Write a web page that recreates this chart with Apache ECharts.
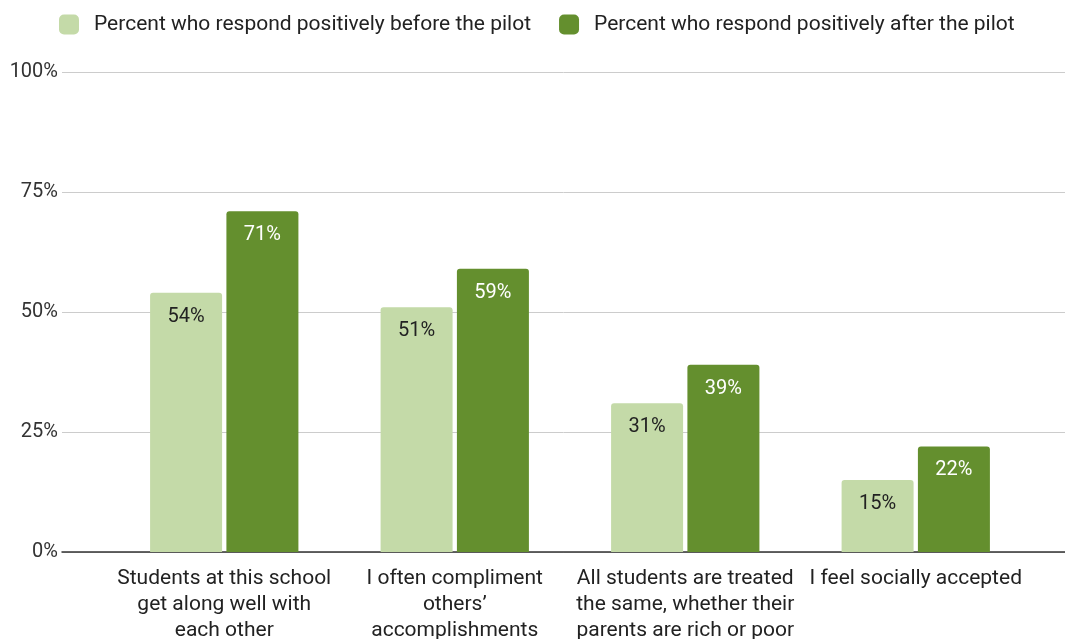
<!DOCTYPE html>
<html>
<head>
<meta charset="utf-8">
<script src="https://cdn.jsdelivr.net/npm/echarts@6/dist/echarts.min.js"></script>
<style>
  html, body { margin: 0; padding: 0; background: #fff; }
  #chart { width: 1065px; height: 639px; }
</style>
</head>
<body>
<div id="chart"></div>
<script>
// survey statements (line breaks as in the original)
const categories = [
  'Students at this school\nget along well with\neach other',
  'I often compliment\nothers\u2019\naccomplishments',
  'All students are treated\nthe same, whether their\nparents are rich or poor',
  'I feel socially accepted'
];
const seriesNames = [
  'Percent who respond positively before the pilot',
  'Percent who respond positively after the pilot'
];
const beforePilot = [54, 51, 31, 15];
const afterPilot = [71, 59, 39, 22];

const font = 'Roboto, "Noto Sans", sans-serif';
const lightGreen = '#c4daa8';
const darkGreen = '#648f2e';

const chart = echarts.init(document.getElementById('chart'));
chart.setOption({
  animation: false,
  textStyle: { fontFamily: font },
  legend: {
    left: 54,
    top: 9,
    itemWidth: 20,
    itemHeight: 20,
    itemGap: 28,
    icon: 'roundRect',
    textStyle: { fontSize: 21, color: '#222', padding: [0, 0, 0, 10], fontFamily: font },
    data: seriesNames
  },
  grid: [
    // full width grid: y labels, grid lines, baseline
    { left: 62, right: 0, top: 72, bottom: 87, outerBoundsMode: 'none' },
    // grid holding the bars
    { left: 109, right: 34, top: 72, bottom: 87, outerBoundsMode: 'none' }
  ],
  xAxis: [
    {
      gridIndex: 0,
      type: 'category',
      data: categories,
      axisLine: { show: true, lineStyle: { color: '#333', width: 1.5 } },
      axisTick: { show: false },
      axisLabel: { show: false }
    },
    {
      gridIndex: 1,
      type: 'category',
      data: categories,
      axisLine: { show: false },
      axisTick: { show: false },
      axisLabel: {
        margin: 14,
        fontSize: 21,
        lineHeight: 26,
        color: '#222',
        fontFamily: font,
        interval: 0
      }
    }
  ],
  yAxis: [
    {
      gridIndex: 0,
      type: 'value',
      min: 0,
      max: 100,
      interval: 25,
      axisLine: { show: false },
      axisTick: { show: false },
      splitLine: { lineStyle: { color: '#cccccc', width: 1 } },
      axisLabel: {
        formatter: '{value}%',
        fontSize: 20,
        color: '#333',
        margin: 4,
        fontFamily: font
      }
    },
    {
      gridIndex: 1,
      type: 'value',
      min: 0,
      max: 100,
      interval: 25,
      show: false
    }
  ],
  series: [
    {
      name: seriesNames[0],
      type: 'bar',
      xAxisIndex: 1,
      yAxisIndex: 1,
      data: beforePilot,
      barWidth: 72,
      barGap: '6%',
      itemStyle: { color: lightGreen, borderRadius: [3, 3, 0, 0] },
      label: {
        show: true,
        position: 'insideTop',
        distance: 14,
        formatter: '{c}%',
        fontSize: 20,
        color: '#222',
        fontFamily: font
      }
    },
    {
      name: seriesNames[1],
      type: 'bar',
      xAxisIndex: 1,
      yAxisIndex: 1,
      data: afterPilot,
      barWidth: 72,
      barGap: '6%',
      itemStyle: { color: darkGreen, borderRadius: [3, 3, 0, 0] },
      label: {
        show: true,
        position: 'insideTop',
        distance: 14,
        formatter: '{c}%',
        fontSize: 20,
        color: '#ffffff',
        fontFamily: font
      }
    }
  ]
});
</script>
</body>
</html>
